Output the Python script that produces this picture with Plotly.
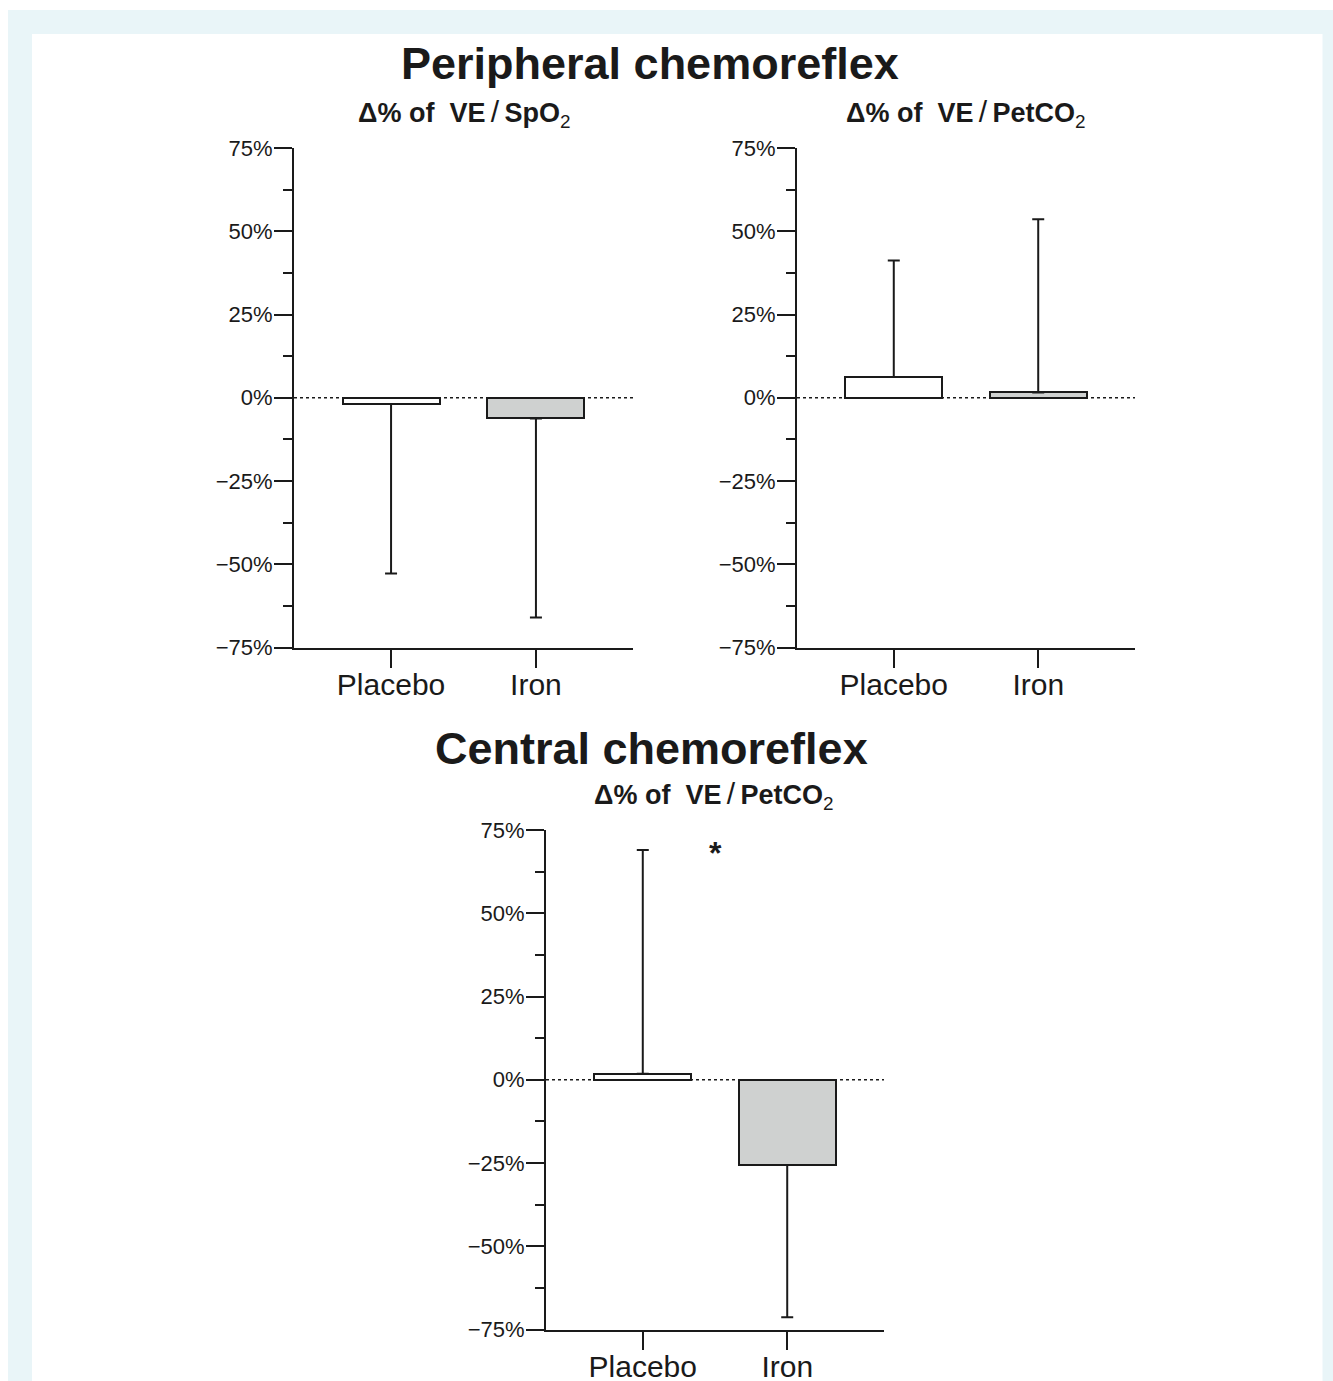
import plotly.graph_objects as go

# ---- data ----
categories = ["Placebo", "Iron"]

# Peripheral chemoreflex, Δ% of VE/SpO2
spo2_mean = [-1.9, -6.2]
spo2_tip = [-52.8, -66.0]

# Peripheral chemoreflex, Δ% of VE/PetCO2
pet_mean = [6.2, 1.6]
pet_tip = [41.2, 53.6]

# Central chemoreflex, Δ% of VE/PetCO2
cen_mean = [1.8, -25.6]
cen_tip = [69.0, -71.3]

bar_colors = ["#ffffff", "#cfd1d0"]
INK = "#1a1a1a"
FONT = "Liberation Sans, Arial, Helvetica, sans-serif"

W, H = 1333, 1381


def px_x(p):
    return p / W


def px_y(p):
    return 1 - p / H


def err(means, tips):
    up = [max(t - m, 0) for m, t in zip(means, tips)]
    dn = [max(m - t, 0) for m, t in zip(means, tips)]
    return up, dn


fig = go.Figure()

panels = [
    ("x", "y", spo2_mean, spo2_tip),
    ("x2", "y2", pet_mean, pet_tip),
    ("x3", "y3", cen_mean, cen_tip),
]
for xa, ya, m, t in panels:
    up, dn = err(m, t)
    fig.add_trace(go.Bar(
        x=categories, y=m, xaxis=xa, yaxis=ya, width=0.67,
        marker=dict(color=bar_colors, line=dict(color=INK, width=2)),
        error_y=dict(type="data", symmetric=False, array=up, arrayminus=dn,
                     color=INK, thickness=2, width=6),
        showlegend=False, hoverinfo="skip",
    ))

# axis domains in pixels (left, right, top, bottom)
domains = {
    "1": (294, 633, 148, 647.5),
    "2": (797, 1135, 148, 647.5),
    "3": (546, 884, 830, 1329.5),
}

layout = dict(
    width=W, height=H, autosize=False,
    margin=dict(l=0, r=0, t=0, b=0, pad=0),
    paper_bgcolor="#ffffff", plot_bgcolor="rgba(0,0,0,0)",
    font=dict(family=FONT, color=INK),
    bargap=0,
)

for k, (l, r, t, b) in domains.items():
    sx = "" if k == "1" else k
    layout["xaxis" + sx] = dict(
        domain=[px_x(l), px_x(r)], anchor="y" + sx, automargin=False,
        type="category", range=[-0.67, 1.67],
        showline=True, linecolor=INK, linewidth=2,
        ticks="outside", ticklen=18, tickwidth=2, tickcolor=INK,
        ticklabelstandoff=-9,
        tickfont=dict(size=30, family=FONT, color=INK),
        showgrid=False, zeroline=False, fixedrange=True,
    )
    layout["yaxis" + sx] = dict(
        domain=[px_y(b), px_y(t)], anchor="x" + sx, automargin=False,
        range=[-75, 75], tickmode="linear", tick0=0, dtick=25,
        ticksuffix="%", ticklabelstandoff=-3,
        showline=True, linecolor=INK, linewidth=2,
        ticks="outside", ticklen=18, tickwidth=2, tickcolor=INK,
        minor=dict(dtick=12.5, tick0=0, ticks="outside", ticklen=9,
                   tickwidth=2, tickcolor=INK, showgrid=False),
        tickfont=dict(size=22, family=FONT, color=INK),
        showgrid=False, zeroline=False, fixedrange=True,
    )

fig.update_layout(**layout)

shapes = [
    # light blue frame with white panel
    dict(type="rect", xref="paper", yref="paper", x0=px_x(8), x1=1.0,
         y0=0, y1=px_y(10), fillcolor="#e9f5f8", line=dict(width=0), layer="below"),
    dict(type="rect", xref="paper", yref="paper", x0=px_x(32), x1=px_x(1322.5),
         y0=0, y1=px_y(34), fillcolor="#ffffff", line=dict(width=0), layer="below"),
]
for sx in ["", "2", "3"]:
    shapes.append(dict(type="line", xref=("x" + sx + " domain"), yref="y" + sx,
                       x0=0, x1=1, y0=0, y1=0, layer="below",
                       line=dict(color=INK, width=1.5, dash="dot")))
fig.update_layout(shapes=shapes)

SL = "<span style='font-size:30px;font-weight:normal'>/</span>"
sub_pet = "<b>Δ% of\u00a0\u00a0VE</b>\u2009" + SL + "\u2009<b>PetCO</b><sub>2</sub>"
sub_spo = "<b>Δ% of\u00a0\u00a0VE</b>\u2009" + SL + "\u2009<b>SpO</b><sub>2</sub>"

annotations = [
    dict(text="<b>Peripheral chemoreflex</b>", x=px_x(650), y=px_y(63),
         font=dict(size=45)),
    dict(text="<b>Central chemoreflex</b>", x=px_x(651), y=px_y(748),
         font=dict(size=45)),
    dict(text=sub_spo, x=px_x(464), y=px_y(113), font=dict(size=27)),
    dict(text=sub_pet, x=px_x(966), y=px_y(113), font=dict(size=27)),
    dict(text=sub_pet, x=px_x(714), y=px_y(795), font=dict(size=27)),
]
for a in annotations:
    a.update(xref="paper", yref="paper", showarrow=False,
             xanchor="center", yanchor="middle")
    a["font"].update(family=FONT, color=INK)

# significance marker
annotations.append(dict(text="<b>*</b>", x=0.5, y=68, xref="x3", yref="y3",
                        showarrow=False, xanchor="center", yanchor="middle",
                        font=dict(size=32, family=FONT, color=INK)))
fig.update_layout(annotations=annotations)

fig.write_html("out.html", config={"displayModeBar": False},
               post_script="document.body.style.margin='0px';"
                           "document.body.style.overflow='hidden';")
